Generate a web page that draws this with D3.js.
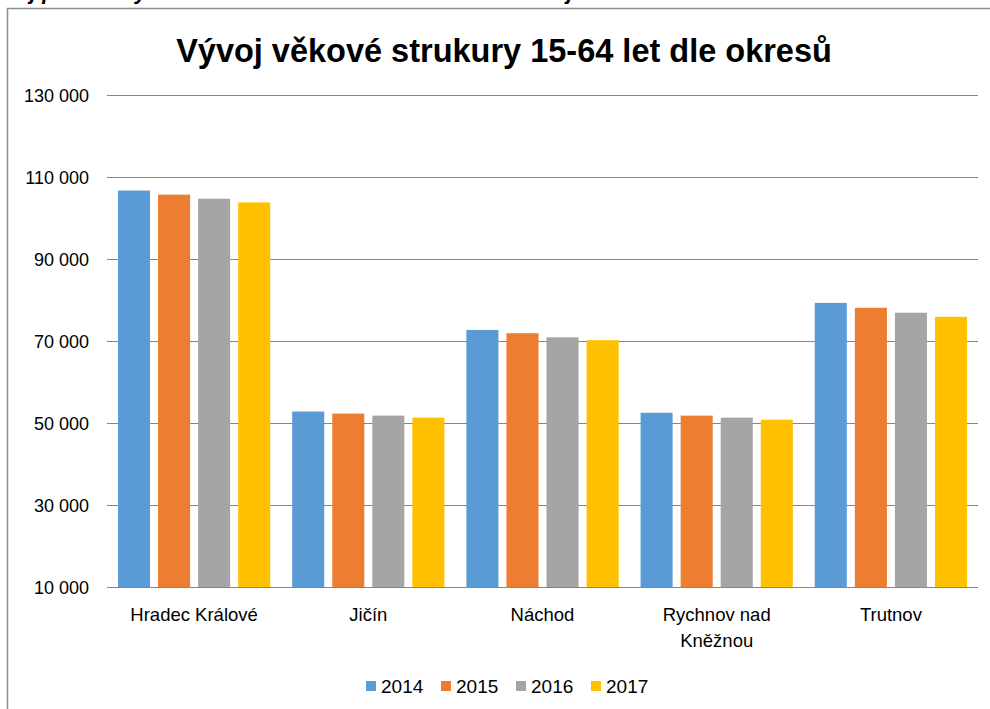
<!DOCTYPE html>
<html>
<meta charset="utf-8">
<title>Vývoj věkové strukury 15-64 let dle okresů</title>
<style>
body { margin: 0; background: #fff; }
text { font-family: "Liberation Sans", Arial, sans-serif; fill: #000; }
.grid line { stroke: #868686; stroke-width: 1.5px; shape-rendering: crispEdges; }
text.title { font-weight: bold; font-size: 32.5px; }
text.tick { font-size: 18px; }
text.cat { font-size: 18.5px; }
text.leg { font-size: 19px; }
</style>
<script src="https://d3js.org/d3.v7.min.js"></script>
<body>
<script>
const districts = ["Hradec Králové", "Jičín", "Náchod", "Rychnov nad Kněžnou", "Trutnov"];
const years = ["2014", "2015", "2016", "2017"];
const colors = ["#5B9BD5", "#ED7D31", "#A5A5A5", "#FFC000"];
const values2014 = [106700, 52800, 72700, 52500, 79300];
const values2015 = [105700, 52300, 71900, 51800, 78100];
const values2016 = [104700, 51800, 70900, 51300, 76900];
const values2017 = [103800, 51300, 70200, 50800, 75900];
const yTicks = [10000, 30000, 50000, 70000, 90000, 110000, 130000];

const series = [values2014, values2015, values2016, values2017];

const width = 990, height = 709;
const margin = {top: 95, right: 12, bottom: 122, left: 107};

const svg = d3.select("body").append("svg")
    .attr("width", width)
    .attr("height", height);

// header line of the page, mostly cut off above the chart frame
svg.append("text")
    .attr("x", -8)
    .attr("y", -1)
    .style("font-weight", "bold")
    .style("font-style", "italic")
    .style("font-size", "22px")
    .text("ývoj počtu obyvatel ve věku 15 až 64 let v okresech kraje");

// chart frame (only left and top edges visible)
svg.append("path")
    .attr("d", "M7.5,709 L7.5,8.5 L990,8.5")
    .attr("fill", "none")
    .attr("stroke", "#8c8c8c")
    .attr("stroke-width", 1.5);

const x0 = d3.scaleBand()
    .domain(districts)
    .range([margin.left, width - margin.right])
    .paddingInner(0.126)
    .paddingOuter(0.063);

const x1 = d3.scaleBand()
    .domain(years)
    .range([0, x0.bandwidth()])
    .paddingInner(0.2)
    .paddingOuter(0);

const y = d3.scaleLinear()
    .domain([10000, 130000])
    .range([height - margin.bottom, margin.top]);

const fmt = d => d3.format(",")(d).replace(/,/g, " ");

const grid = svg.append("g").attr("class", "grid");
grid.selectAll("line")
  .data(yTicks)
  .join("line")
    .attr("x1", margin.left)
    .attr("x2", width - margin.right)
    .attr("y1", d => Math.round(y(d)) + 0.5)
    .attr("y2", d => Math.round(y(d)) + 0.5);

svg.append("g").selectAll("text")
  .data(yTicks)
  .join("text")
    .attr("class", "tick")
    .attr("x", 89)
    .attr("y", d => y(d) + 6.5)
    .attr("text-anchor", "end")
    .text(fmt);

const groups = svg.append("g").selectAll("g")
  .data(districts)
  .join("g")
    .attr("transform", d => `translate(${x0(d)},0)`);

groups.selectAll("rect")
  .data((d, i) => years.map((yr, j) => ({year: yr, value: series[j][i], color: colors[j]})))
  .join("rect")
    .attr("x", d => x1(d.year))
    .attr("width", x1.bandwidth())
    .attr("y", d => y(d.value))
    .attr("height", d => y(10000) - y(d.value))
    .attr("fill", d => d.color);

// category labels, wrapped like the original
const catLines = {"Rychnov nad Kněžnou": ["Rychnov nad", "Kněžnou"]};
svg.append("g").selectAll("text")
  .data(districts)
  .join("text")
    .attr("class", "cat")
    .attr("text-anchor", "middle")
    .attr("x", d => x0(d) + x0.bandwidth() / 2)
    .attr("y", 621)
    .each(function(d) {
      const lines = catLines[d] || [d];
      d3.select(this).selectAll("tspan")
        .data(lines)
        .join("tspan")
          .attr("x", x0(d) + x0.bandwidth() / 2)
          .attr("dy", (l, i) => i ? 26 : 0)
          .text(l => l);
    });

// legend
const legend = svg.append("g").attr("transform", "translate(366,681)");
const item = legend.selectAll("g")
  .data(years)
  .join("g")
    .attr("transform", (d, i) => `translate(${i * 75},0)`);
item.append("rect")
    .attr("width", 10)
    .attr("height", 10)
    .attr("fill", (d, i) => colors[i]);
item.append("text")
    .attr("class", "leg")
    .attr("x", 15)
    .attr("y", 11.5)
    .text(d => d);

svg.append("text")
    .attr("class", "title")
    .attr("x", 504)
    .attr("y", 62)
    .attr("text-anchor", "middle")
    .text("Vývoj věkové strukury 15-64 let dle okresů");
</script>
</body>
</html>
